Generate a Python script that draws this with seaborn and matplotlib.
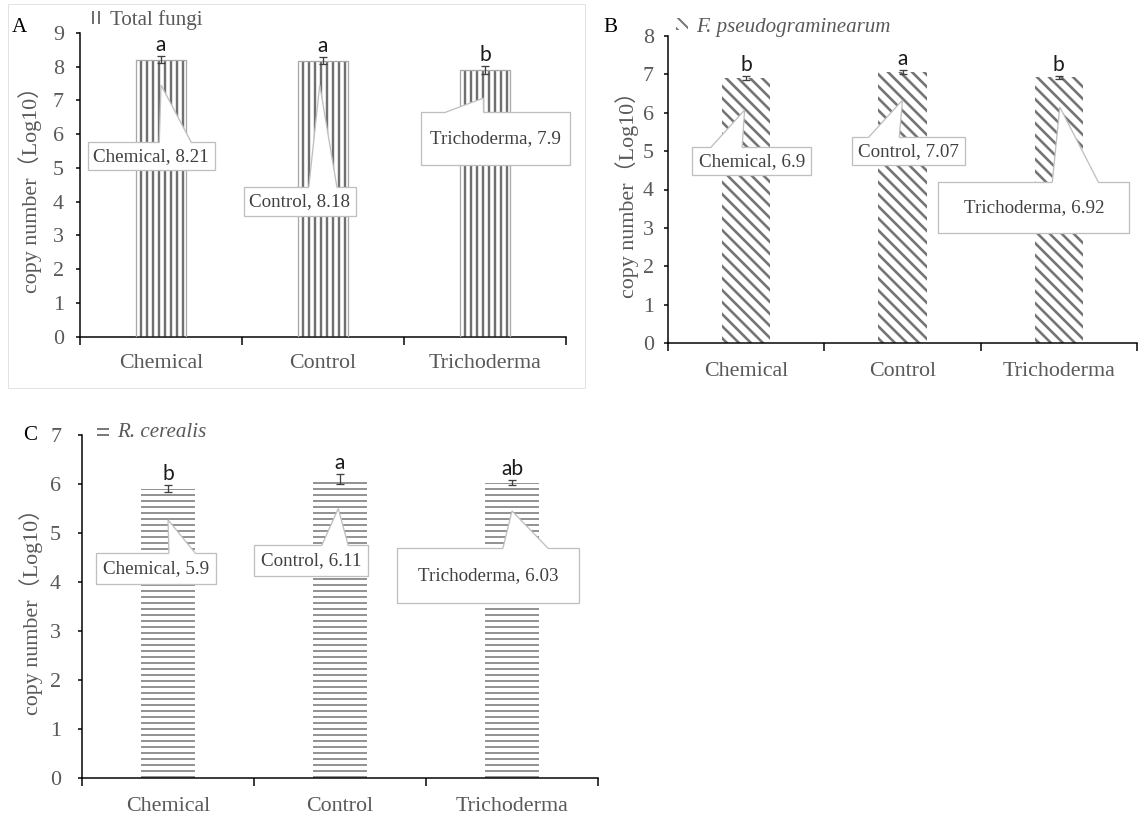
import matplotlib
matplotlib.use("Agg")
import matplotlib.pyplot as plt
import seaborn as sns
import pandas as pd
from matplotlib.patches import Rectangle, Polygon, Patch

# ---------------- data ----------------
categories = ["Chemical", "Control", "Trichoderma"]

total_fungi = [8.21, 8.18, 7.90]
total_fungi_err = [0.10, 0.10, 0.12]
total_fungi_letters = ["a", "a", "b"]

f_pseudo = [6.90, 7.07, 6.92]
f_pseudo_err = [0.05, 0.05, 0.05]
f_pseudo_letters = ["b", "a", "b"]

r_cerealis = [5.90, 6.11, 6.03]
r_cerealis_err = [0.07, 0.10, 0.06]
r_cerealis_letters = ["b", "a", "ab"]

series_names = ["Total fungi", "F. pseudograminearum", "R. cerealis"]
panel_letters = ["A", "B", "C"]
y_max = [9, 8, 7]

# ---------------- style ----------------
sns.set_theme(style="ticks")
plt.rcParams["font.family"] = ["Liberation Serif", "Noto Sans CJK SC", "DejaVu Sans"]
plt.rcParams["hatch.linewidth"] = 2.0

W, H = 1147, 817
fig = plt.figure(figsize=(W / 72, H / 72), dpi=72)

GRAY_TXT = "#595959"
CALLOUT_EC = "#bfbfbf"

# axes rectangles in pixels: left, right, top(ymax), bottom(0)
rects = [(80, 566, 33, 336.5), (668, 1137, 36, 343), (82, 598, 435, 778)]
hatches = ["||", "\\\\", "--"]
hatch_lw = [2.4, 2.6, 1.6]
hatch_col = ["#707070", "#757575", "#7a7a7a"]
ytick_pad = [12, 10, 17]
xtick_pad = [17, 19, 19]
ylabel_x = [-0.078, -0.062, -0.076]
legend_anchor = [(0.0206, 1.043), (0.017, 1.029), (0.029, 1.006)]
legend_italic = [False, True, True]
panel_letter_pos = [(19, 27), (610, 27), (30, 435)]

# callout layout: (box cx, box cy, w px, h px, base left px, base right px, tip x, tip y)
callouts = [
    [(-0.06, 5.34, 127, 28, 8, 40, 0.0, 7.46),
     (0.857, 4.01, 112, 29, 9, 37, 0.98, 7.46),
     (2.065, 5.87, 149, 53, -49.5, -12, 1.99, 7.07)],
    [(0.035, 4.74, 119, 28, -40.5, -9.5, -0.01, 6.07),
     (1.04, 5.0, 113, 28, -40, -9.5, 1.0, 6.33),
     (1.84, 3.53, 191, 51, 18.5, 64.5, 2.006, 6.15)],
    [(-0.07, 4.28, 120, 31, 13, 39, 0.0, 5.27),
     (0.83, 4.43, 114.5, 31, 11, 37.5, 0.99, 5.5),
     (1.86, 4.13, 182, 55, 15, 60, 2.0, 5.45)],
]

values_all = [total_fungi, f_pseudo, r_cerealis]
err_all = [total_fungi_err, f_pseudo_err, r_cerealis_err]
letters_all = [total_fungi_letters, f_pseudo_letters, r_cerealis_letters]


def draw_callout(ax, text, spec, sx, sy):
    cx, cy, w, h, bl, br, tx, ty = spec
    x0, y0 = cx - w / 2 / sx, cy - h / 2 / sy
    ax.add_patch(Rectangle((x0, y0), w / sx, h / sy, fc="white", ec=CALLOUT_EC,
                           lw=1.3, zorder=5, clip_on=False))
    top = cy + h / 2 / sy
    xl, xr = cx + bl / sx, cx + br / sx
    ax.add_patch(Polygon([(xl, top - 2.5 / sy), (xl, top), (tx, ty), (xr, top),
                          (xr, top - 2.5 / sy)], closed=True, fc="white", ec="none",
                         zorder=6, clip_on=False))
    ax.plot([xl, tx, xr], [top, ty, top], color=CALLOUT_EC, lw=1.3, zorder=7,
            clip_on=False, solid_joinstyle="miter")
    ax.text(cx, cy, text, ha="center", va="center", fontsize=19, color="#404040",
            zorder=8, family="Liberation Serif")


for i in range(3):
    l, r, t, b = rects[i]
    ax = fig.add_axes([l / W, 1 - b / H, (r - l) / W, (b - t) / H])
    df = pd.DataFrame({"treatment": categories, "value": values_all[i]})
    sns.barplot(data=df, x="treatment", y="value", ax=ax, color="white",
                width=0.31, errorbar=None, edgecolor=hatch_col[i], linewidth=0,
                hatch=hatches[i], saturation=1, zorder=2)
    bars = list(ax.patches)
    for p in bars:
        p.set_hatch(hatches[i])
        p.set_edgecolor(hatch_col[i])
        p.set_linewidth(0)
        if hasattr(p, "set_hatch_linewidth"):
            p.set_hatch_linewidth(hatch_lw[i])
    if i == 0:
        for p in bars:
            ax.add_patch(Rectangle(p.get_xy(), p.get_width(), p.get_height(),
                                   fill=False, ec="#a8a8a8", lw=1.3, zorder=3))

    ax.errorbar(x=list(range(3)), y=values_all[i], yerr=err_all[i], fmt="none",
                ecolor="#404040", elinewidth=1.3, capsize=4, capthick=1.3, zorder=9)

    ymx = y_max[i]
    sx = (r - l) / 3.0
    sy = (b - t) / ymx
    for j in range(3):
        ax.text(j, values_all[i][j] + err_all[i][j] + 1 / sy, letters_all[i][j],
                ha="center", va="bottom", fontsize=21, family="Lato",
                color="#1a1a1a", zorder=10)

    for j in range(3):
        txt = f"{categories[j]}, {values_all[i][j]:g}"
        draw_callout(ax, txt, callouts[i][j], sx, sy)

    ax.set_xlim(-0.5, 2.5)
    ax.set_ylim(0, ymx)
    ax.set_yticks(list(range(0, ymx + 1)))
    ax.set_xticks([0, 1, 2])
    ax.set_xticklabels(categories)
    ax.set_xticks([-0.5, 0.5, 1.5, 2.5], minor=True)
    ax.tick_params(axis="x", which="major", length=0, pad=xtick_pad[i],
                   labelsize=22, labelcolor=GRAY_TXT)
    ax.tick_params(axis="x", which="minor", length=8, width=1.5, color="black",
                   direction="out")
    ax.tick_params(axis="y", which="major", length=4, width=1.5, color="black",
                   direction="out", pad=ytick_pad[i], labelsize=22,
                   labelcolor=GRAY_TXT)
    for s in ["top", "right"]:
        ax.spines[s].set_visible(False)
    for s in ["left", "bottom"]:
        ax.spines[s].set_color("black")
        ax.spines[s].set_linewidth(1.5)
    ax.set_xlabel("")
    ax.set_ylabel("copy number（Log10）", fontsize=22, color=GRAY_TXT,
                  family=["Liberation Serif", "Noto Sans CJK SC"])
    ax.yaxis.set_label_coords(ylabel_x[i], 0.5)
    ax.set_facecolor("none")

    handle = Patch(facecolor="white", edgecolor=hatch_col[i], hatch=hatches[i],
                   linewidth=0)
    if hasattr(handle, "set_hatch_linewidth"):
        handle.set_hatch_linewidth(hatch_lw[i])
    leg = ax.legend([handle], [series_names[i]], loc="center left",
                    bbox_to_anchor=legend_anchor[i], frameon=False,
                    handlelength=0.55, handleheight=0.55, handletextpad=0.4,
                    borderpad=0, borderaxespad=0,
                    prop={"family": "Liberation Serif", "size": 21,
                          "style": "italic" if legend_italic[i] else "normal"})
    for tx in leg.get_texts():
        tx.set_color(GRAY_TXT)

    px, py = panel_letter_pos[i]
    fig.text(px / W, 1 - py / H, panel_letters[i], ha="center", va="center",
             fontsize=21, color="black", family="Liberation Serif")

# faint frame around panel A
fig.add_artist(Rectangle((8 / W, 1 - 388 / H), (585 - 8) / W, (388 - 4) / H,
                         transform=fig.transFigure, fill=False, ec="#e3e3e3", lw=1))

fig.savefig("out.png", dpi=72, facecolor="white")
